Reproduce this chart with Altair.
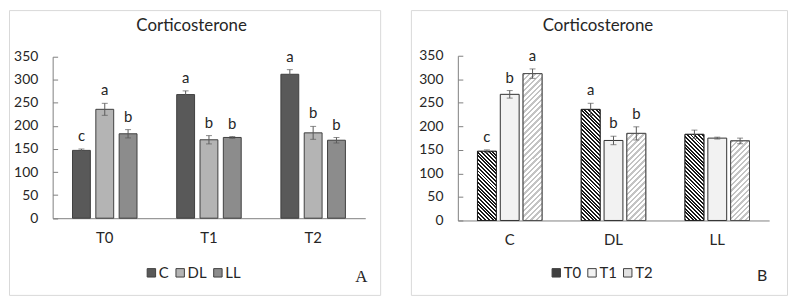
import math
import altair as alt
import pandas as pd

# ---------------- data ----------------
treatments = ["C", "DL", "LL"]
times = ["T0", "T1", "T2"]
mean_C = [147, 268, 312]
mean_DL = [236, 170, 185]
mean_LL = [183, 175, 169]
err_C = [3, 8, 10]
err_DL = [13, 9, 14]
err_LL = [9, 2, 6]
# significance letters, panel A (groups = times, compare treatments)
letters_A_C = ["c", "a", "a"]
letters_A_DL = ["a", "b", "b"]
letters_A_LL = ["b", "b", "b"]
# significance letters, panel B (groups = treatments, compare times)
letters_B_C = ["c", "b", "a"]
letters_B_DL = ["a", "b", "b"]
letters_B_LL = ["", "", ""]
y_ticks = [0, 50, 100, 150, 200, 250, 300, 350]
title_text = "Corticosterone"

means = {"C": mean_C, "DL": mean_DL, "LL": mean_LL}
errs = {"C": err_C, "DL": err_DL, "LL": err_LL}
lettA = {"C": letters_A_C, "DL": letters_A_DL, "LL": letters_A_LL}
lettB = {"C": letters_B_C, "DL": letters_B_DL, "LL": letters_B_LL}

rows = []
for t in treatments:
    for i, tm in enumerate(times):
        m, e = means[t][i], errs[t][i]
        rows.append(dict(treat=t, time=tm, mean=m, lo=m - e, hi=m + e,
                         letterA=lettA[t][i], letterB=lettB[t][i]))
df = pd.DataFrame(rows)

# ---------------- style / layout ----------------
FONT = "Lato"
TXT = "#262626"
AXIS_COL = "#808080"
ERR_COL = "#5a5a5a"

A_W, A_H = 374, 287
A_Y0, A_Y350 = 209.7, 47.0
A_X0, A_X1 = 44.0, 359.0
A_PI, A_PO = 0.234, 0.851
B_W, B_H = 379, 287
B_Y0, B_Y350 = 212.0, 46.0
B_X0, B_X1 = 47.3, 361.0
B_PI, B_PO = 0.174, 0.860


def title(dx):
    return alt.TitleParams(text=title_text, font=FONT, fontSize=17, fontWeight="normal",
                           color=TXT, anchor="middle", offset=-25, dx=dx)


def y_left(offset):
    return alt.Axis(orient="left", offset=offset, values=y_ticks, ticks=False, tickSize=0,
                    grid=False, labelPadding=15, domainColor=AXIS_COL, labelFont=FONT,
                    labelFontSize=14, labelColor=TXT, title=None)


def y_right_ticks(offset):
    return alt.Axis(orient="right", offset=offset, values=y_ticks, labels=False, domain=False,
                    ticks=True, tickSize=5, tickColor=AXIS_COL, grid=False, title=None)


def x_bottom(offset):
    return alt.Axis(orient="bottom", offset=offset, ticks=False, tickSize=0, labelPadding=12,
                    labelAngle=0, domainColor=AXIS_COL, labelFont=FONT, labelFontSize=15,
                    labelColor=TXT, title=None)


def legend(lx, ly):
    return alt.Legend(orient="none", legendX=lx, legendY=ly, direction="horizontal", columns=3,
                      title=None, symbolType="square", symbolSize=72, symbolStrokeColor="#404040",
                      symbolStrokeWidth=1, symbolOpacity=1, labelFont=FONT, labelFontSize=15,
                      labelColor=TXT, labelOffset=0, columnPadding=3, padding=0)


def hatch(w, h, period, c_line, c_bg, direction, frac=0.5):
    L = w + h
    n = L / period
    k = L / (w * w + h * h)
    if direction == "/":
        x1, y1, x2, y2 = 0, 0, w * k, h * k
    else:
        x1, y1, x2, y2 = 0, 1, w * k, 1 - h * k
    stops = []
    for i in range(int(math.ceil(n))):
        a = min(i / n, 1.0)
        b = min((i + frac) / n, 1.0)
        c = min((i + 1) / n, 1.0)
        stops += [alt.GradientStop(offset=round(a, 4), color=c_line),
                  alt.GradientStop(offset=round(b, 4), color=c_line),
                  alt.GradientStop(offset=round(b, 4), color=c_bg),
                  alt.GradientStop(offset=round(c, 4), color=c_bg)]
    return alt.LinearGradient(gradient="linear", stops=stops, x1=x1, y1=y1, x2=round(x2, 4), y2=round(y2, 4))


# ---------------- panel A ----------------
yA = alt.Scale(domain=[0, 350], range=[A_Y0, A_Y350], nice=False, zero=True)
xA = alt.Scale(domain=times, range=[A_X0, A_X1], paddingInner=0, paddingOuter=0)
xoA = alt.Scale(domain=treatments, paddingInner=A_PI, paddingOuter=A_PO)

baseA = alt.Chart(df).encode(
    x=alt.X("time:N", scale=xA, axis=None),
    xOffset=alt.XOffset("treat:N", scale=xoA),
)
barsA = baseA.mark_bar(stroke="#404040", strokeWidth=1).encode(
    x=alt.X("time:N", scale=xA, axis=x_bottom(-(A_H - A_Y0))),
    y=alt.Y("mean:Q", scale=yA, axis=y_left(-A_X0)),
    fill=alt.Fill("treat:N", scale=alt.Scale(domain=treatments, range=["#595959", "#b4b4b4", "#8c8c8c"]),
                  legend=legend(136, 257)),
)
errA = baseA.mark_rule(color=ERR_COL, strokeWidth=1).encode(
    y=alt.Y("lo:Q", scale=yA, axis=y_right_ticks(A_X0 - A_W)), y2="hi:Q")
capHiA = baseA.mark_tick(color=ERR_COL, size=6, thickness=1).encode(y=alt.Y("hi:Q", scale=yA, axis=None))
capLoA = baseA.mark_tick(color=ERR_COL, size=6, thickness=1).encode(y=alt.Y("lo:Q", scale=yA, axis=None))
letA = baseA.mark_text(baseline="bottom", dy=-5, font=FONT, fontSize=15, color=TXT).encode(
    y=alt.Y("hi:Q", scale=yA, axis=None), text="letterA:N")
tagA = alt.Chart(pd.DataFrame({"panel": ["A"]})).mark_text(
    font="Liberation Serif", fontSize=17, color=TXT).encode(text="panel:N", x=alt.value(355), y=alt.value(269))

panelA = alt.layer(barsA, errA, capHiA, capLoA, letA, tagA).resolve_axis(
    x="independent", y="independent").properties(width=A_W, height=A_H, title=title(-3))

# ---------------- panel B ----------------
yB = alt.Scale(domain=[0, 350], range=[B_Y0, B_Y350], nice=False, zero=True)
xB = alt.Scale(domain=treatments, range=[B_X0, B_X1], paddingInner=0, paddingOuter=0)
xoB = alt.Scale(domain=times, paddingInner=B_PI, paddingOuter=B_PO)

baseB = alt.Chart(df).encode(
    x=alt.X("treat:N", scale=xB, axis=None),
    xOffset=alt.XOffset("time:N", scale=xoB),
)
barsB = baseB.mark_bar(stroke="#303030", strokeWidth=1).encode(
    x=alt.X("treat:N", scale=xB, axis=x_bottom(-(B_H - B_Y0))),
    y=alt.Y("mean:Q", scale=yB, axis=y_left(-B_X0)),
    fill=alt.Fill("time:N", scale=alt.Scale(domain=times, range=["#404040", "#f2f2f2", "#e2e2e2"]),
                  legend=legend(139, 257)),
)

# hatched overlays (T0 dark "\\", T2 light "/")
bandB = (B_X1 - B_X0) / 3
stepB = bandB / (3 - B_PI + 2 * B_PO)
wB = stepB * (1 - B_PI)
pxB = (B_Y0 - B_Y350) / 350
hatch_layers = []
for r in rows:
    if r["time"] == "T1":
        continue
    h = r["mean"] * pxB
    if r["time"] == "T0":
        grad = hatch(wB, h, 3.8, "#1a1a1a", "#ffffff", "\\", 0.52)
        stroke = "#202020"
    else:
        grad = hatch(wB, h, 5.5, "#c4c4c4", "#ffffff", "/", 0.45)
        stroke = "#505050"
    hatch_layers.append(
        baseB.transform_filter((alt.datum.treat == r["treat"]) & (alt.datum.time == r["time"]))
        .mark_bar(fill=grad, stroke=stroke, strokeWidth=1)
        .encode(y=alt.Y("mean:Q", scale=yB, axis=None))
    )

errB = baseB.mark_rule(color=ERR_COL, strokeWidth=1).encode(
    y=alt.Y("lo:Q", scale=yB, axis=y_right_ticks(B_X0 - B_W)), y2="hi:Q")
capHiB = baseB.mark_tick(color=ERR_COL, size=6, thickness=1).encode(y=alt.Y("hi:Q", scale=yB, axis=None))
capLoB = baseB.mark_tick(color=ERR_COL, size=6, thickness=1).encode(y=alt.Y("lo:Q", scale=yB, axis=None))
letB = baseB.mark_text(baseline="bottom", dy=-5, font=FONT, fontSize=15, color=TXT).encode(
    y=alt.Y("hi:Q", scale=yB, axis=None), text="letterB:N")
tagB = alt.Chart(pd.DataFrame({"panel": ["B"]})).mark_text(
    font=FONT, fontSize=16, color=TXT).encode(text="panel:N", x=alt.value(354), y=alt.value(268))

panelB = alt.layer(barsB, *hatch_layers, errB, capHiB, capLoB, letB, tagB).resolve_axis(
    x="independent", y="independent").properties(width=B_W, height=B_H, title=title(-1))

chart = alt.hconcat(panelA, panelB, spacing=29).resolve_scale(
    fill="independent", xOffset="independent", x="independent", y="independent"
).properties(padding=0).configure_view(stroke="#d9d9d9", strokeWidth=1)

chart.save("out.html", embed_options={"renderer": "svg", "actions": False})
